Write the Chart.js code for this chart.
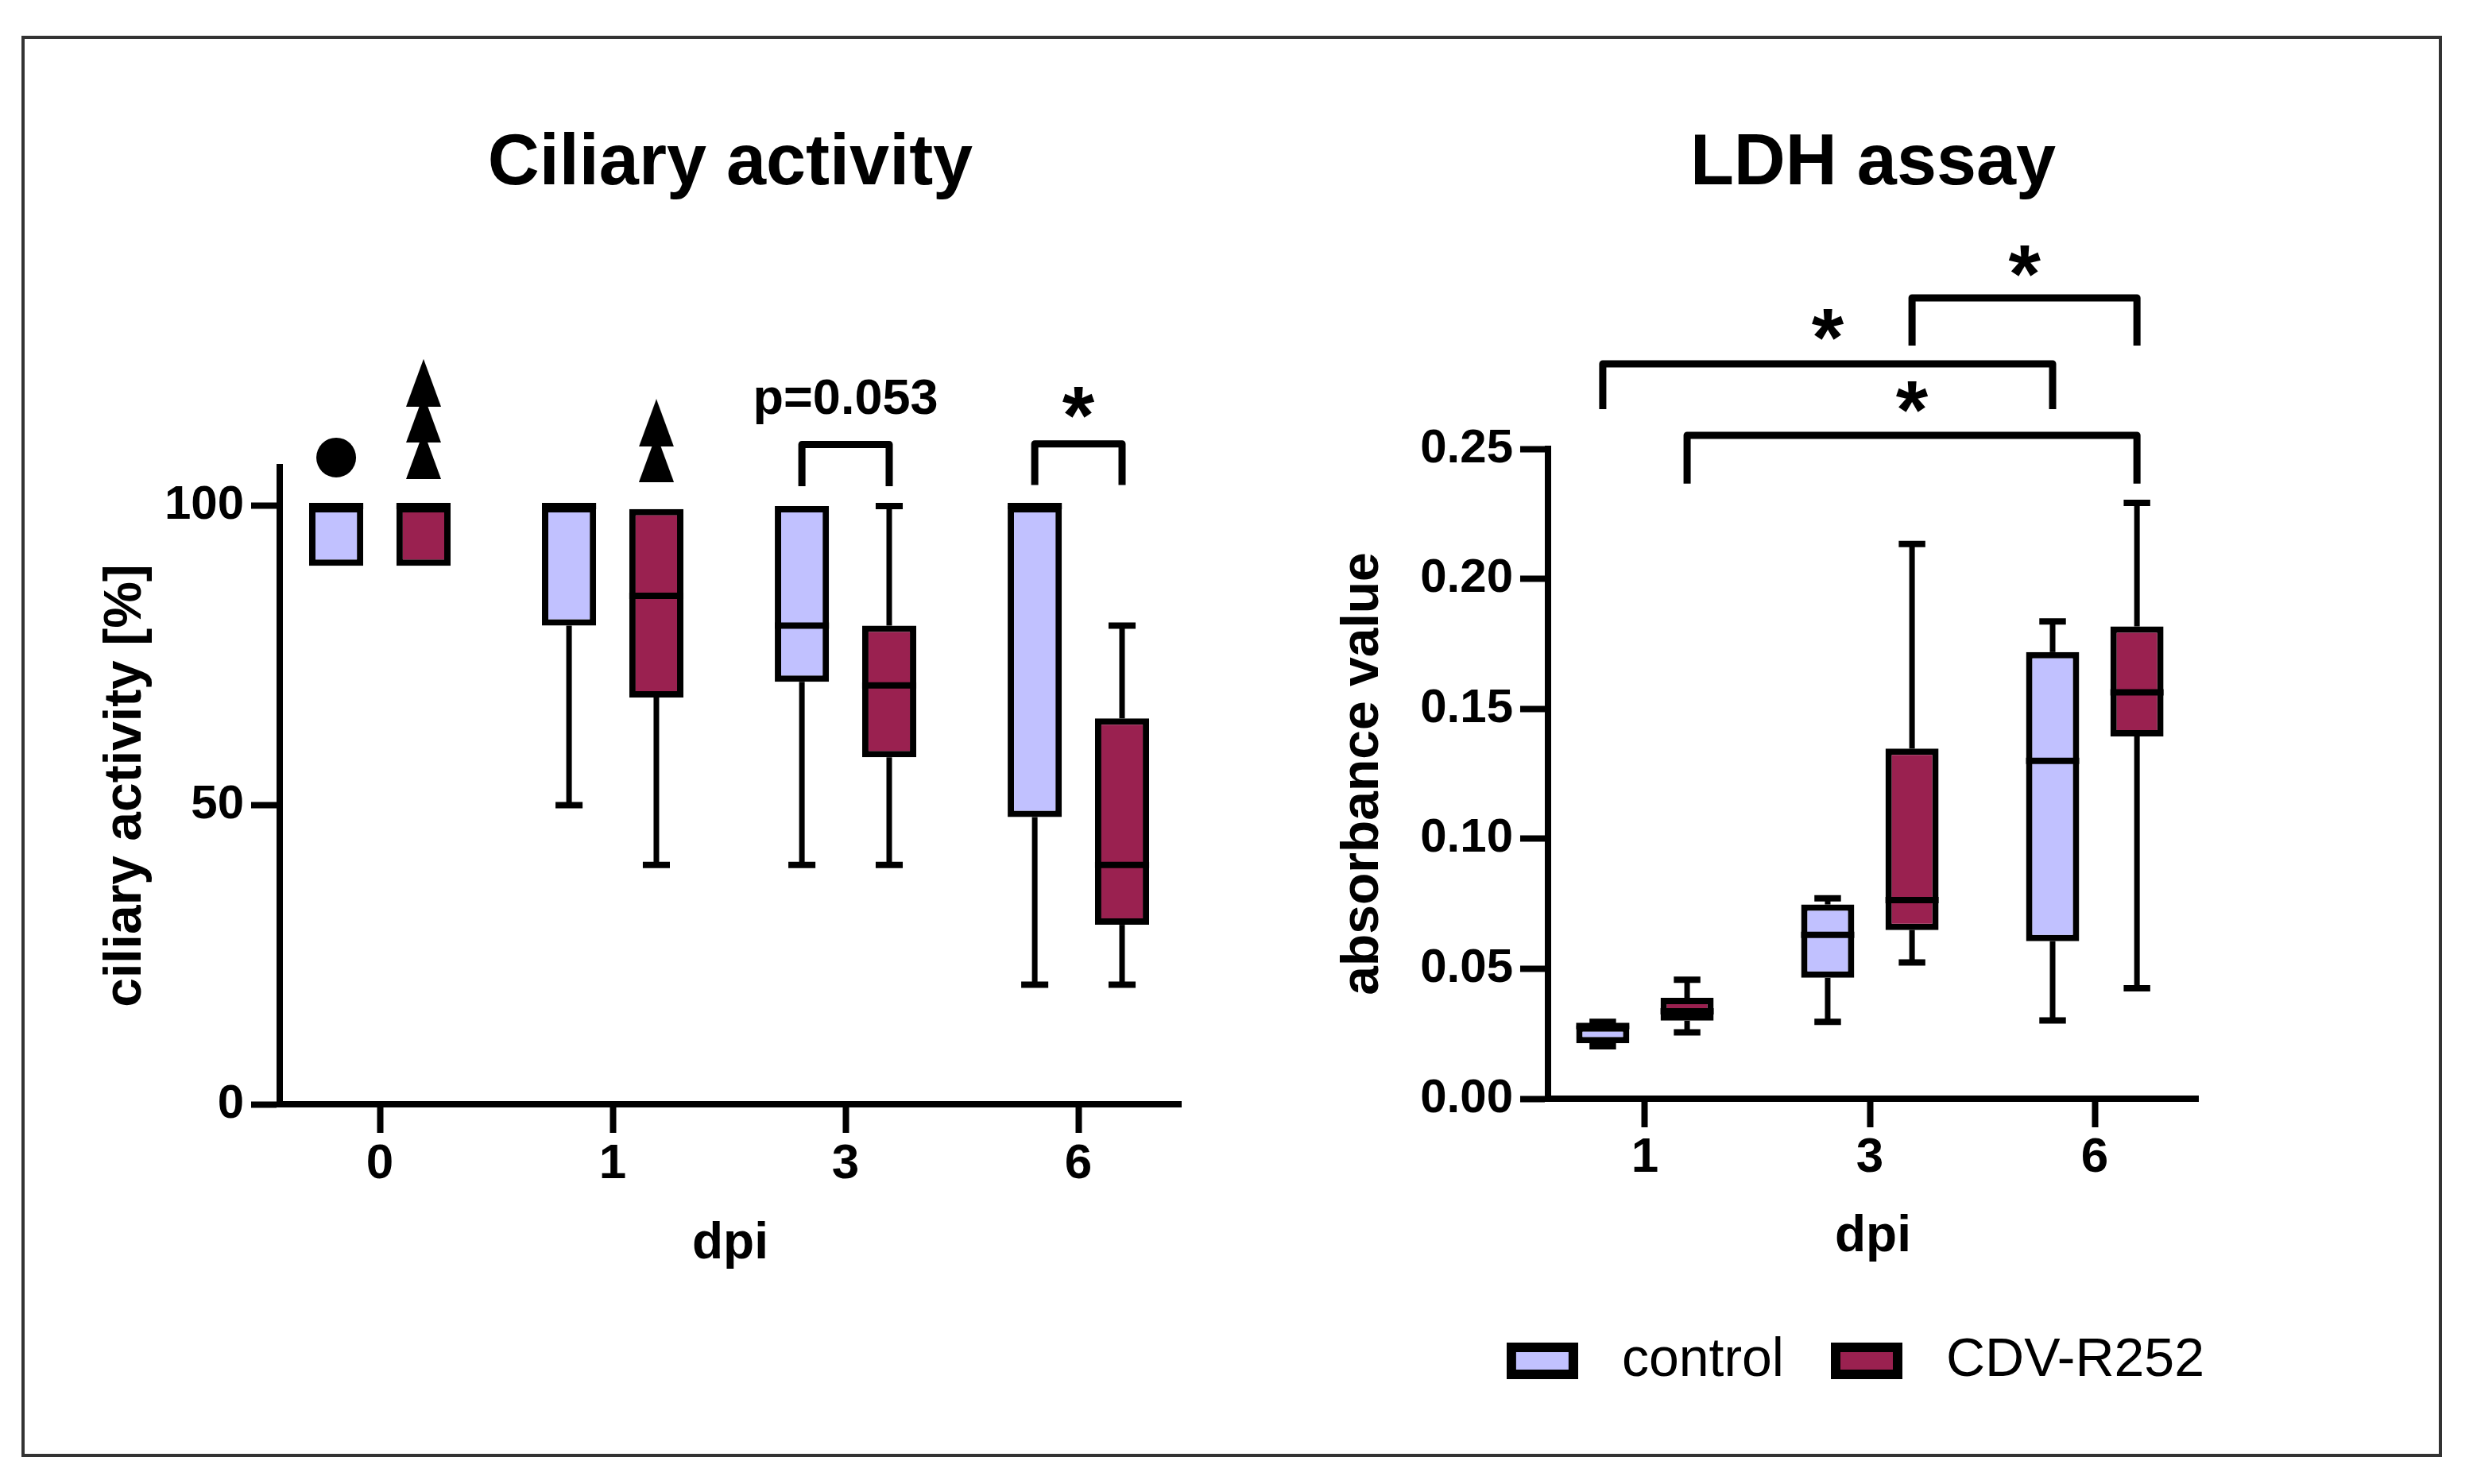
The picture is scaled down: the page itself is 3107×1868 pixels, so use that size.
<!DOCTYPE html>
<html>
<head>
<meta charset="utf-8">
<title>Ciliary activity / LDH assay</title>
<script src="https://cdn.jsdelivr.net/npm/chart.js@4.4.1/dist/chart.umd.min.js"></script>
<style>
  html, body { margin: 0; padding: 0; background: #fff; }
  #page { position: relative; width: 3107px; height: 1868px; overflow: hidden; background: #fff; }
  #frame { position: absolute; left: 27px; top: 45px; width: 3046px; height: 1789px;
           border: 4px solid #333; box-sizing: border-box; }
  canvas { position: absolute; top: 0; }
  #ciliaChart { left: 0; }
  #ldhChart { left: 1640px; }
</style>
</head>
<body>
<div id="page">
  <div id="frame"></div>
  <canvas id="ciliaChart" width="1640" height="1868"></canvas>
  <canvas id="ldhChart" width="1467" height="1868"></canvas>
</div>
<script>
// --- DATA ---

const groups = ["control", "CDV-R252"];

// Ciliary activity [%] per dpi (box = q1..q3, whiskers min..max)
const ciliaDpi = ["0", "1", "3", "6"];
const ciliaTicks = [0, 50, 100];
const ciliaCtlMin = [90, 50, 40, 20];
const ciliaCtlQ1  = [90, 80, 70.6, 48];
const ciliaCtlMed = [100, 100, 80, 100];
const ciliaCtlQ3  = [100, 100, 100, 100];
const ciliaCtlMax = [100, 100, 100, 100];
const ciliaCdvMin = [90, 40, 40, 20];
const ciliaCdvQ1  = [90, 68, 58, 30];
const ciliaCdvMed = [100, 85, 70, 40];
const ciliaCdvQ3  = [100, 99.5, 80, 64.5];
const ciliaCdvMax = [100, 99.5, 100, 80];

// symbols above the boxes (● over control, ▲ over CDV-R252)
const circleDpiIdx = [0];
const circleY = [108.1];
const triangleDpiIdx = [0, 0, 0, 1, 1];
const triangleY = [108.5, 114.6, 120.6, 108, 113.9];

// LDH assay absorbance per dpi
const ldhDpi = ["1", "3", "6"];
const ldhTicks = [0, 0.05, 0.10, 0.15, 0.20, 0.25];
const ldhCtlMin = [0.0202, 0.0296, 0.0301];
const ldhCtlQ1  = [0.0213, 0.0465, 0.0606];
const ldhCtlMed = [0.0280, 0.0630, 0.1300];
const ldhCtlQ3  = [0.0282, 0.0747, 0.1718];
const ldhCtlMax = [0.0296, 0.0771, 0.1836];
const ldhCdvMin = [0.0255, 0.0524, 0.0425];
const ldhCdvQ1  = [0.0300, 0.0649, 0.1394];
const ldhCdvMed = [0.0336, 0.0764, 0.1563];
const ldhCdvQ3  = [0.0388, 0.1347, 0.1817];
const ldhCdvMax = [0.0458, 0.2134, 0.2292];

// significance brackets: from/to = [dataset, dpi index]
const ciliaBrackets = [
  { from: [0, 2], to: [1, 2], top: 110.3, leg: 103.3, text: "p=0.053", textAt: 115.4 },
  { from: [0, 3], to: [1, 3], top: 110.4, leg: 103.5, text: "*", textAt: 110.3 }
];
const ldhBrackets = [
  { from: [0, 0], to: [0, 2], top: 0.2827, leg: 0.2653, text: "*", textAt: 0.2819 },
  { from: [1, 1], to: [1, 2], top: 0.3081, leg: 0.2897, text: "*", textAt: 0.3063 },
  { from: [1, 0], to: [1, 2], top: 0.2552, leg: 0.2366, text: "*", textAt: 0.2541 }
];

// --- STYLE ---

const controlColor = "#c1c1ff";
const cdvColor = "#9a2150";
const FONT = '"Liberation Sans", Arial, Helvetica, sans-serif';
const GROUP_PCT = 0.75; // both boxes share 75% of a dpi slot
const LINE = 8;

Chart.defaults.font.family = FONT;
Chart.defaults.color = "#000";

function boxDataset(label, color, q1, q3, min, med, max, barPct) {
  return {
    label,
    data: q1.map((v, i) => ({ x: i, y: [v, q3[i]] })),
    whisker: { min, med, max },
    backgroundColor: color,
    borderColor: "#000",
    borderWidth: LINE,
    borderSkipped: false,
    categoryPercentage: GROUP_PCT,
    barPercentage: barPct
  };
}

// whiskers under the boxes, medians on top
const boxWhiskers = {
  id: "boxWhiskers",
  beforeDatasetsDraw(chart) {
    const { ctx } = chart;
    const y = chart.scales.y;
    ctx.save();
    ctx.strokeStyle = "#000";
    chart.data.datasets.forEach((ds, di) => {
      if (!ds.whisker) return;
      chart.getDatasetMeta(di).data.forEach((bar, i) => {
        const [q1, q3] = ds.data[i].y;
        const cap = bar.width * 0.5;
        [[q1, ds.whisker.min[i]], [q3, ds.whisker.max[i]]].forEach(([from, to]) => {
          if (from === to) return;
          const y1 = y.getPixelForValue(from);
          const y2 = y.getPixelForValue(to);
          ctx.lineWidth = LINE - 1;
          ctx.beginPath(); ctx.moveTo(bar.x, y1); ctx.lineTo(bar.x, y2); ctx.stroke();
          ctx.lineWidth = LINE;
          ctx.beginPath(); ctx.moveTo(bar.x - cap / 2, y2); ctx.lineTo(bar.x + cap / 2, y2); ctx.stroke();
        });
      });
    });
    ctx.restore();
  },
  afterDatasetsDraw(chart) {
    const { ctx } = chart;
    const y = chart.scales.y;
    ctx.save();
    ctx.strokeStyle = "#000";
    ctx.lineWidth = LINE;
    chart.data.datasets.forEach((ds, di) => {
      if (!ds.whisker) return;
      chart.getDatasetMeta(di).data.forEach((bar, i) => {
        const ym = y.getPixelForValue(ds.whisker.med[i]);
        ctx.beginPath();
        ctx.moveTo(bar.x - bar.width / 2, ym);
        ctx.lineTo(bar.x + bar.width / 2, ym);
        ctx.stroke();
      });
    });
    ctx.restore();
  }
};

function makeBrackets(list) {
  return {
    id: "brackets",
    afterDraw(chart) {
      const { ctx } = chart;
      const y = chart.scales.y;
      ctx.save();
      ctx.strokeStyle = "#000";
      ctx.fillStyle = "#000";
      ctx.lineWidth = LINE + 1;
      ctx.lineJoin = "round";
      list.forEach(b => {
        const xa = chart.getDatasetMeta(b.from[0]).data[b.from[1]].x;
        const xb = chart.getDatasetMeta(b.to[0]).data[b.to[1]].x;
        const yt = y.getPixelForValue(b.top);
        const yl = y.getPixelForValue(b.leg);
        ctx.beginPath();
        ctx.moveTo(xa, yl); ctx.lineTo(xa, yt); ctx.lineTo(xb, yt); ctx.lineTo(xb, yl);
        ctx.stroke();
        ctx.font = b.text === "*" ? "bold 104px " + FONT : "bold 63px " + FONT;
        ctx.textAlign = "center";
        ctx.textBaseline = "alphabetic";
        ctx.fillText(b.text, (xa + xb) / 2, y.getPixelForValue(b.textAt));
      });
      ctx.restore();
    }
  };
}

function triangleMark(w, h) {
  const c = document.createElement("canvas");
  c.width = w; c.height = h;
  const g = c.getContext("2d");
  g.fillStyle = "#000";
  g.beginPath(); g.moveTo(w / 2, 0); g.lineTo(w, h); g.lineTo(0, h); g.closePath(); g.fill();
  return c;
}

function legendSwatch(fill) {
  const c = document.createElement("canvas");
  c.width = 90; c.height = 46;
  const g = c.getContext("2d");
  g.fillStyle = "#000"; g.fillRect(0, 0, 90, 46);
  g.fillStyle = fill; g.fillRect(12, 12, 66, 22);
  return c;
}

function axisStyle(tickLen) {
  return {
    offset: false,
    grid: { display: true, offset: false, drawOnChartArea: false, drawTicks: true, tickLength: tickLen, tickWidth: LINE, tickColor: "#000" },
    border: { display: true, color: "#000", width: LINE }
  };
}

const boldTitle = (text, size) => ({ display: true, text, color: "#000", font: { size, weight: "bold" } });

// --- CILIARY ACTIVITY ---

new Chart(document.getElementById("ciliaChart"), {
  type: "bar",
  data: {
    datasets: [
      boxDataset(groups[0], controlColor, ciliaCtlQ1, ciliaCtlQ3, ciliaCtlMin, ciliaCtlMed, ciliaCtlMax, 0.62),
      boxDataset(groups[1], cdvColor, ciliaCdvQ1, ciliaCdvQ3, ciliaCdvMin, ciliaCdvMed, ciliaCdvMax, 0.62),
      {
        type: "scatter",
        data: circleDpiIdx.map((d, i) => ({ x: d - GROUP_PCT / 4, y: circleY[i] })),
        pointStyle: "circle", pointRadius: 25, backgroundColor: "#000", borderWidth: 0, clip: false
      },
      {
        type: "scatter",
        data: triangleDpiIdx.map((d, i) => ({ x: d + GROUP_PCT / 4, y: triangleY[i] })),
        // radius only widens the in-area test, the image keeps its own size
        pointStyle: triangleMark(44, 60), pointRadius: 140, clip: false
      }
    ]
  },
  options: {
    responsive: false,
    animation: false,
    events: [],
    layout: { padding: { top: 0, right: 154, bottom: 0, left: 0 } },
    plugins: {
      legend: { display: false },
      tooltip: { enabled: false },
      title: { ...boldTitle("Ciliary activity", 90), fullSize: false, padding: { top: 153, bottom: 327 } }
    },
    scales: {
      x: {
        type: "linear", min: -0.43, max: 3.44,
        ...axisStyle(36),
        afterBuildTicks: s => { s.ticks = ciliaDpi.map((_, i) => ({ value: i })); },
        afterFit: s => { s.height = 478; },
        ticks: { callback: v => ciliaDpi[v], padding: 3, maxRotation: 0, autoSkip: false, font: { size: 62, weight: "bold" } },
        title: { ...boldTitle("dpi", 64), padding: { top: 0, bottom: 263 } }
      },
      y: {
        type: "linear", min: 0, max: 106.5,
        ...axisStyle(36),
        afterBuildTicks: s => { s.ticks = ciliaTicks.map(v => ({ value: v })); },
        afterFit: s => { s.width = 352; },
        ticks: { callback: v => String(v), padding: 9, font: { size: 60, weight: "bold" } },
        title: { ...boldTitle("ciliary activity [%]", 66), padding: { top: 119, bottom: 0 } }
      }
    }
  },
  plugins: [boxWhiskers, makeBrackets(ciliaBrackets)]
});

// --- LDH ASSAY ---

new Chart(document.getElementById("ldhChart"), {
  type: "bar",
  data: {
    datasets: [
      boxDataset(groups[0], controlColor, ldhCtlQ1, ldhCtlQ3, ldhCtlMin, ldhCtlMed, ldhCtlMax, 0.63),
      boxDataset(groups[1], cdvColor, ldhCdvQ1, ldhCdvQ3, ldhCdvMin, ldhCdvMed, ldhCdvMax, 0.63)
    ]
  },
  options: {
    responsive: false,
    animation: false,
    events: [],
    layout: { padding: { top: 0, right: 295, bottom: 111, left: 0 } },
    plugins: {
      tooltip: { enabled: false },
      title: { ...boldTitle("LDH assay", 90), fullSize: false, padding: { top: 153, bottom: 304 } },
      legend: {
        position: "bottom",
        align: "end",
        labels: {
          usePointStyle: true,
          pointStyleWidth: 132,
          padding: 38,
          color: "#000",
          font: { size: 68, weight: "normal" },
          generateLabels: chart => Chart.defaults.plugins.legend.labels.generateLabels(chart)
            .map(item => ({ ...item, pointStyle: legendSwatch(item.fillStyle) }))
        }
      }
    },
    scales: {
      x: {
        type: "linear", min: -0.431, max: 2.459,
        ...axisStyle(36),
        afterBuildTicks: s => { s.ticks = ldhDpi.map((_, i) => ({ value: i })); },
        afterFit: s => { s.height = 258; },
        ticks: { callback: v => ldhDpi[v], padding: 2, maxRotation: 0, autoSkip: false, font: { size: 62, weight: "bold" } },
        title: { ...boldTitle("dpi", 64), padding: { top: 0, bottom: 45 } }
      },
      y: {
        type: "linear", min: 0, max: 0.25,
        ...axisStyle(35),
        afterBuildTicks: s => { s.ticks = ldhTicks.map(v => ({ value: v })); },
        afterFit: s => { s.width = 308; },
        ticks: { callback: v => v.toFixed(2), padding: 9, font: { size: 60, weight: "bold" } },
        title: { ...boldTitle("absorbance value", 66), padding: { top: 36, bottom: 0 } }
      },
      // empty strip so the plot ends before the legend does
      legendRoom: {
        type: "linear", position: "right", display: true,
        grid: { display: false }, border: { display: false }, ticks: { display: false },
        afterFit: s => { s.width = 46; }
      }
    }
  },
  plugins: [boxWhiskers, makeBrackets(ldhBrackets)]
});
</script>
</body>
</html>
